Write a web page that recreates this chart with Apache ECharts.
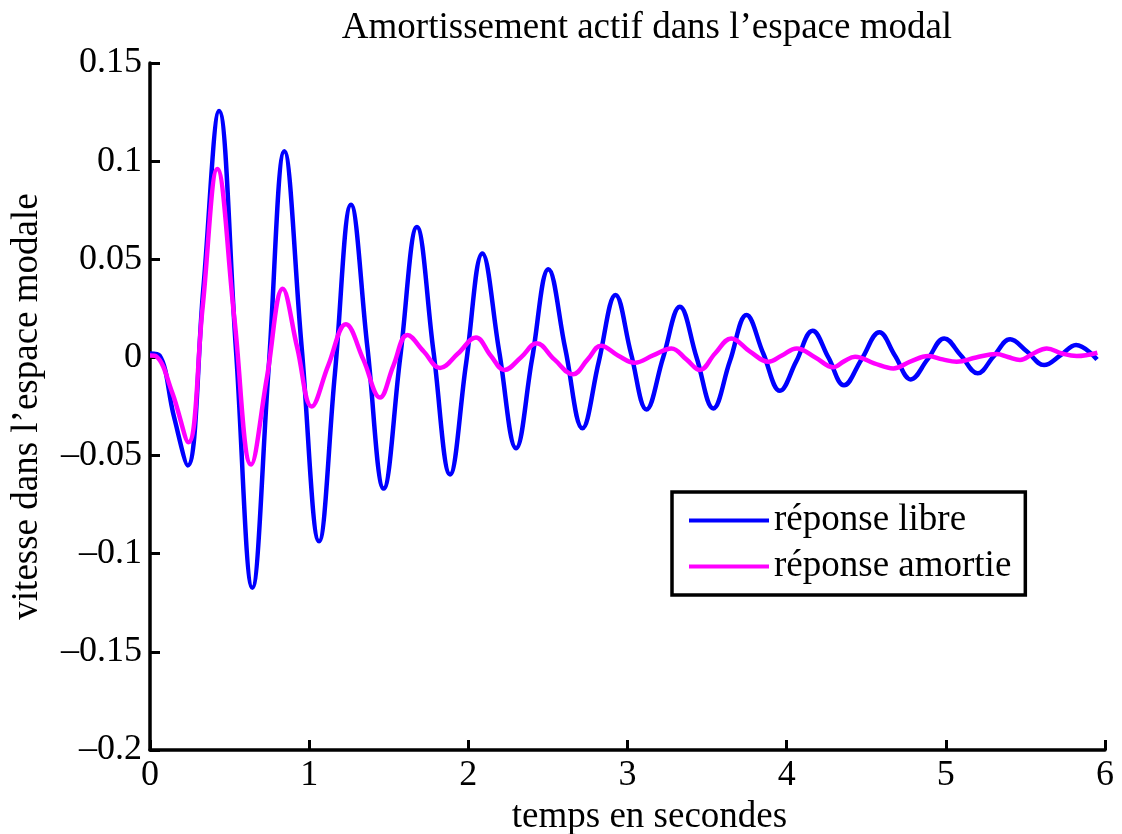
<!DOCTYPE html>
<html>
<head>
<meta charset="utf-8">
<script src="https://cdn.jsdelivr.net/npm/echarts@6/dist/echarts.min.js"></script>
<style>
html,body{margin:0;padding:0;background:#fff;}
#chart{width:1122px;height:834px;}
</style>
</head>
<body>
<div id="chart"></div>
<script>
const titleText = 'Amortissement actif dans l\u2019espace modal';
const xAxisName = 'temps en secondes';
const yAxisName = 'vitesse dans l\u2019espace modale';
const seriesNames = ['réponse libre', 'réponse amortie'];
const xTicks = [0, 1, 2, 3, 4, 5, 6];
const yTicks = [-0.2, -0.15, -0.1, -0.05, 0, 0.05, 0.1, 0.15];

const tLibre = [0, 0.06, 0.15, 0.237, 0.335, 0.434, 0.54, 0.643, 0.745, 0.844, 0.953, 1.062, 1.162, 1.263, 1.366, 1.468, 1.572, 1.677, 1.781, 1.885, 1.986, 2.088, 2.194, 2.3, 2.40, 2.503, 2.61, 2.717, 2.82, 2.925, 3.022, 3.119, 3.224, 3.329, 3.434, 3.539, 3.643, 3.748, 3.853, 3.958, 4.06, 4.163, 4.262, 4.36, 4.47, 4.583, 4.68, 4.78, 4.885, 4.99, 5.095, 5.2, 5.30, 5.404, 5.51, 5.617, 5.72, 5.818, 5.95];
const vLibre = [0.002, 0.001, -0.03, -0.055, 0.035, 0.1255, 0.004, -0.1174, -0.006, 0.1051, 0.005, -0.0937, -0.008, 0.0778, 0.005, -0.0668, 0, 0.0664, 0.003, -0.0596, -0.003, 0.053, 0.003, -0.0463, -0.001, 0.0449, 0.004, -0.0361, -0.002, 0.0318, 0.002, -0.0265, 0, 0.0258, 0, -0.026, -0.002, 0.0216, 0.002, -0.017, -0.002, 0.0136, 0, -0.0142, -0.001, 0.0128, 0.001, -0.0112, -0.001, 0.0097, 0.001, -0.0081, 0.0005, 0.0092, 0.003, -0.0039, 0.001, 0.0063, -0.001];

const tAmortie = [0, 0.04, 0.14, 0.241, 0.33, 0.423, 0.53, 0.635, 0.735, 0.834, 0.925, 1.016, 1.12, 1.231, 1.34, 1.445, 1.53, 1.617, 1.72, 1.822, 1.935, 2.048, 2.14, 2.226, 2.33, 2.429, 2.54, 2.658, 2.75, 2.833, 2.94, 3.046, 3.16, 3.276, 3.37, 3.455, 3.55, 3.652, 3.77, 3.885, 3.97, 4.063, 4.18, 4.293, 4.36, 4.43, 4.55, 4.67, 4.78, 4.89, 4.98, 5.068, 5.19, 5.319, 5.39, 5.466, 5.55, 5.634, 5.73, 5.822, 5.952];
const vAmortie = [0.001, 0.0005, -0.018, -0.0432, 0.025, 0.096, 0.02, -0.0546, -0.01, 0.035, 0.005, -0.025, -0.004, 0.0169, -0.001, -0.0204, -0.004, 0.0114, 0.003, -0.0054, 0.002, 0.0102, 0.001, -0.0064, 0, 0.0072, -0.001, -0.0086, -0.001, 0.006, 0.001, -0.0027, 0.001, 0.0046, -0.001, -0.0064, 0.002, 0.0097, 0.003, -0.0022, 0.001, 0.0046, 0, -0.005, -0.002, 0.0004, -0.003, -0.0056, -0.002, 0.0007, -0.001, -0.0022, 0, 0.0017, 0.0002, -0.0013, 0.002, 0.0046, 0.002, 0.0007, 0.0024];

const colors = ['#0000ff', '#ff00ff'];
const FONT = 'Liberation Serif';
const FS = 36;

function pairs(t, v) { return t.map((x, i) => [x, v[i]]); }
function fmtY(v) {
  const r = Math.round(v * 1000) / 1000;
  if (r === 0) return '0';
  const s = String(Math.abs(r)).replace(/^0?\./, '0.');
  return (r < 0 ? '\u2013' : '') + s;
}

const chart = echarts.init(document.getElementById('chart'), null, {renderer: 'canvas'});
chart.setOption({
  animation: false,
  backgroundColor: '#ffffff',
  title: {
    text: titleText,
    left: 642, top: 5, textAlign: 'center',
    textStyle: {fontFamily: FONT, fontSize: 37, fontWeight: 'normal', color: '#000'}
  },
  grid: {left: 150, right: 17, top: 63, bottom: 84, containLabel: false, outerBoundsMode: 'none'},
  legend: {
    orient: 'vertical',
    left: 672, top: 492,
    data: seriesNames,
    icon: 'rect',
    itemWidth: 80, itemHeight: 4,
    itemGap: 9,
    padding: [10, 14, 10, 17],
    borderColor: '#000', borderWidth: 3.5,
    backgroundColor: '#fff',
    textStyle: {fontFamily: FONT, fontSize: 37, lineHeight: 37, color: '#000'}
  },
  xAxis: {
    type: 'value', min: 0, max: 6, interval: 1,
    name: xAxisName, nameLocation: 'middle', nameGap: 44,
    nameTextStyle: {fontFamily: FONT, fontSize: 37, color: '#000', padding: [0, 0, 0, 44]},
    axisLine: {onZero: false, lineStyle: {color: '#000', width: 3.5}},
    axisTick: {inside: true, length: 10, lineStyle: {color: '#000', width: 3}},
    axisLabel: {fontFamily: FONT, fontSize: FS, color: '#000', margin: 8},
    splitLine: {show: false}
  },
  yAxis: {
    type: 'value', min: -0.2, max: 0.15, interval: 0.05,
    name: yAxisName, nameLocation: 'middle', nameGap: 104, nameRotate: 90,
    nameTextStyle: {fontFamily: FONT, fontSize: 37, color: '#000'},
    axisLine: {onZero: false, lineStyle: {color: '#000', width: 3.5}},
    axisTick: {inside: true, length: 10, lineStyle: {color: '#000', width: 3}},
    axisLabel: {fontFamily: FONT, fontSize: FS, color: '#000', margin: 8, formatter: fmtY},
    splitLine: {show: false}
  },
  series: [
    {name: seriesNames[0], type: 'line', data: pairs(tLibre, vLibre), smooth: 0.4,
     showSymbol: false, lineStyle: {color: colors[0], width: 4.5}, itemStyle: {color: colors[0]}},
    {name: seriesNames[1], type: 'line', data: pairs(tAmortie, vAmortie), smooth: 0.4,
     showSymbol: false, lineStyle: {color: colors[1], width: 4.5}, itemStyle: {color: colors[1]}}
  ]
});
</script>
</body>
</html>
